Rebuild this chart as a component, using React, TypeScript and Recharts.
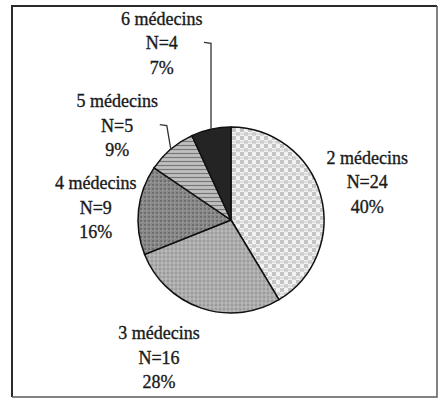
import { PieChart, Pie, Cell } from 'recharts';

const categories = ['2 médecins', '3 médecins', '4 médecins', '5 médecins', '6 médecins'];
const counts = [24, 16, 9, 5, 4];
const percentLabels = ['40%', '28%', '16%', '9%', '7%'];

const pieData = categories.map((name, i) => ({ name, value: counts[i], pct: percentLabels[i] }));

// label placement: radius factor and angle nudge (deg, clockwise), leader line
const labelLayout = [
  { r: 1.52, shift: 0, leader: false, slant: 0 },
  { r: 1.67, shift: 9, leader: false, slant: 0 },
  { r: 1.46, shift: -1, leader: false, slant: 0 },
  { r: 1.59, shift: -10, leader: true, slant: 4 },
  { r: 2.04, shift: -9, leader: true, slant: 0 },
];

const fills = ['url(#p2)', 'url(#p3)', 'url(#p4)', 'url(#p5)', '#242424'];

const RAD = Math.PI / 180;
const serif = '"Liberation Serif", "Times New Roman", serif';

function renderLabel(props: any) {
  const { cx, cy, midAngle, outerRadius, index } = props;
  const lay = labelLayout[index];
  const a = midAngle - lay.shift;
  const lx = cx + outerRadius * lay.r * Math.cos(a * RAD);
  const ly = cy - outerRadius * lay.r * Math.sin(a * RAD);
  const ex = cx + outerRadius * Math.cos(midAngle * RAD);
  const ey = cy - outerRadius * Math.sin(midAngle * RAD);
  const lines = [pieData[index].name, `N=${pieData[index].value}`, pieData[index].pct];
  return (
    <g key={`lab-${index}`}>
      {lines.map((t, k) => (
        <text
          key={k}
          x={lx}
          y={ly + (k - 1) * 24.5}
          textAnchor="middle"
          dominantBaseline="central"
          style={{ fontFamily: serif, fontSize: 18 }}
          fill="#1a1a1a"
          stroke="#1a1a1a"
          strokeWidth={0.35}
        >
          {t}
        </text>
      ))}
      {lay.leader && (
        <path
          d={`M${ex},${ey} L${ex - lay.slant},${ly} L${ex - lay.slant - 7},${ly - 1}`}
          fill="none"
          stroke="#333"
          strokeWidth={1.3}
        />
      )}
    </g>
  );
}

export default function App() {
  return (
    <div style={{ position: 'absolute', left: 0, top: 0, width: 441, height: 406, background: '#fff' }}>
      <PieChart width={441} height={406} margin={{ top: 0, right: 0, bottom: 0, left: 0 }}>
        <defs>
          <pattern id="p2" width="8" height="8" patternUnits="userSpaceOnUse">
            <rect width="8" height="8" fill="#f2f2f2" />
            <rect x="0" y="0" width="4" height="4" fill="#c4c4c4" />
            <rect x="4" y="4" width="4" height="4" fill="#d6d6d6" />
            <line x1="0" y1="6" x2="8" y2="6" stroke="#b0b0b0" strokeWidth="0.6" />
          </pattern>
          <pattern id="p3" width="4" height="4" patternUnits="userSpaceOnUse">
            <rect width="4" height="4" fill="#acacac" />
            <line x1="0" y1="1" x2="4" y2="1" stroke="#808080" strokeWidth="0.8" />
            <line x1="2" y1="0" x2="2" y2="4" stroke="#cccccc" strokeWidth="0.8" />
          </pattern>
          <pattern id="p4" width="4" height="4" patternUnits="userSpaceOnUse">
            <rect width="4" height="4" fill="#8a8a8a" />
            <rect x="0" y="0" width="2" height="2" fill="#6e6e6e" />
            <rect x="2" y="2" width="1" height="1" fill="#a6a6a6" />
          </pattern>
          <pattern id="p5" width="4" height="4" patternUnits="userSpaceOnUse">
            <rect width="4" height="4" fill="#c0c0c0" />
            <line x1="0" y1="1.5" x2="4" y2="1.5" stroke="#777" strokeWidth="1.2" />
          </pattern>
        </defs>
        <Pie
          data={pieData}
          dataKey="value"
          nameKey="name"
          cx={231}
          cy={220}
          outerRadius={93}
          startAngle={90}
          endAngle={-270}
          stroke="#111"
          strokeWidth={1.5}
          label={renderLabel}
          labelLine={false}
          isAnimationActive={false}
        >
          {pieData.map((entry, i) => (
            <Cell key={`cell-${i}`} fill={fills[i]} />
          ))}
        </Pie>
      </PieChart>
      <svg width={441} height={406} style={{ position: 'absolute', left: 0, top: 0, pointerEvents: 'none' }}>
        <path d="M12,397 L12,6 L437,6" fill="none" stroke="#2a2a2a" strokeWidth={2} />
        <path d="M437,6 L437,397 L12,397" fill="none" stroke="#5a5a5a" strokeWidth={1.5} />
      </svg>
    </div>
  );
}
